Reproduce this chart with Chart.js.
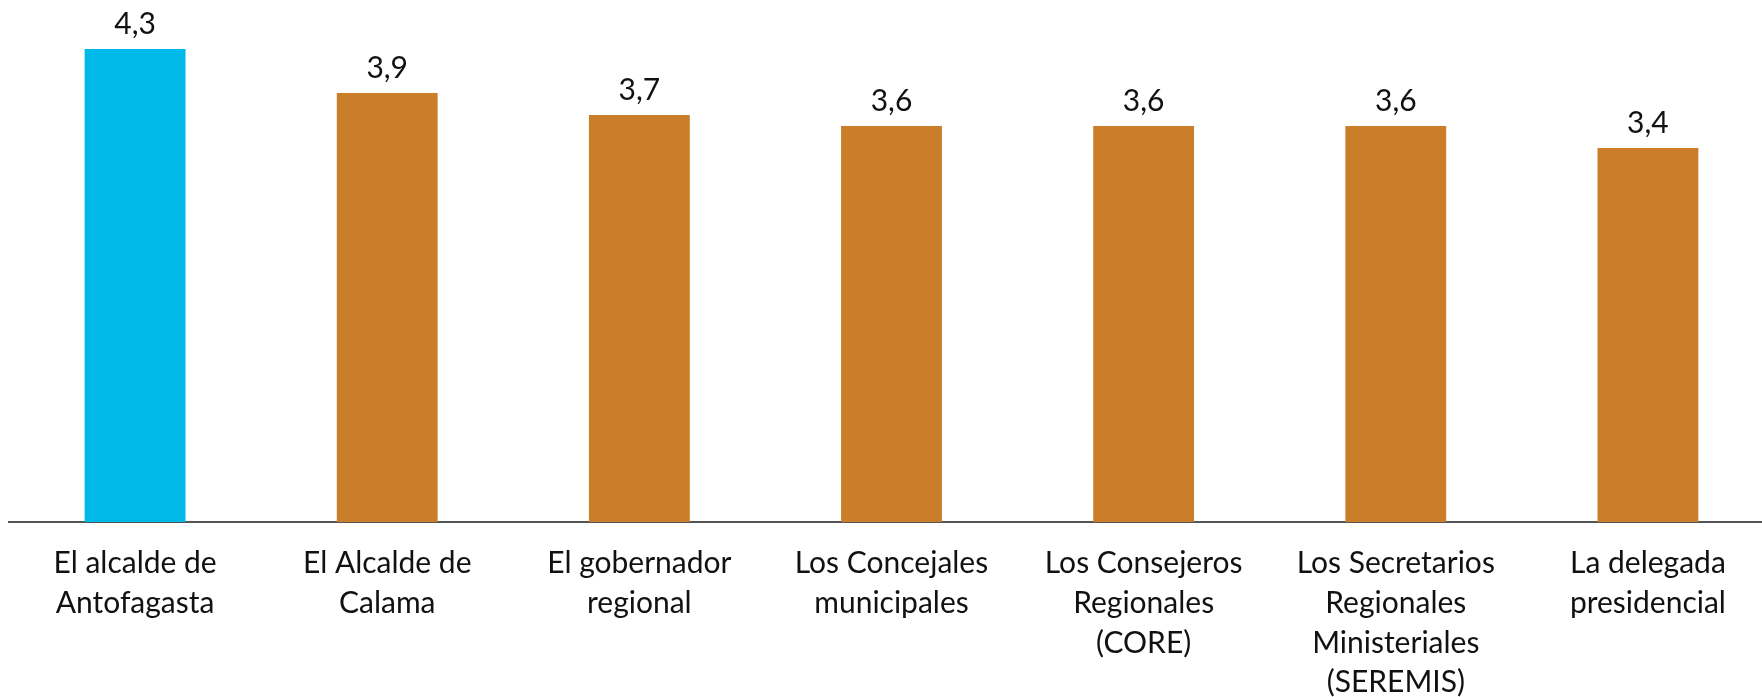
<!DOCTYPE html>
<html>
<head>
<meta charset="utf-8">
<script src="https://cdn.jsdelivr.net/npm/chart.js@4"></script>
<style>
  html, body { margin: 0; padding: 0; background: #fff; overflow: hidden; }
  #wrap { width: 1776px; height: 697px; }
</style>
</head>
<body>
<div id="wrap"><canvas id="notas"></canvas></div>
<script>
// ------------------- Datos -------------------
const categorias = [
  ["El alcalde de", "Antofagasta"],
  ["El Alcalde de", "Calama"],
  ["El gobernador", "regional"],
  ["Los Concejales", "municipales"],
  ["Los Consejeros", "Regionales", "(CORE)"],
  ["Los Secretarios", "Regionales", "Ministeriales", "(SEREMIS)"],
  ["La delegada", "presidencial"]
];
const notas = [4.3, 3.9, 3.7, 3.6, 3.6, 3.6, 3.4];
const colores = ["#00B9E8", "#CA7E2A", "#CA7E2A", "#CA7E2A", "#CA7E2A", "#CA7E2A", "#CA7E2A"];

const FUENTE = "Lato, 'Open Sans', sans-serif";

// etiquetas con el valor sobre cada barra
const etiquetasValor = {
  id: "etiquetasValor",
  afterDatasetsDraw(chart) {
    const c = chart.ctx;
    const meta = chart.getDatasetMeta(0);
    c.save();
    c.font = "30px " + FUENTE;
    c.fillStyle = "#111";
    c.textAlign = "center";
    c.textBaseline = "alphabetic";
    meta.data.forEach((bar, i) => {
      const txt = notas[i].toFixed(1).replace(".", ",");
      c.fillText(txt, bar.x, bar.y - 15);
    });
    c.restore();
  }
};

new Chart(document.getElementById("notas"), {
  type: "bar",
  data: {
    labels: categorias,
    datasets: [{
      data: notas,
      backgroundColor: colores,
      borderWidth: 0,
      barPercentage: 0.8,
      categoryPercentage: 0.5
    }]
  },
  options: {
    responsive: true,
    maintainAspectRatio: false,
    animation: false,
    layout: { padding: { left: 9, right: 2, top: 0, bottom: 0 } },
    plugins: {
      legend: { display: false },
      tooltip: { enabled: false }
    },
    scales: {
      x: {
        grid: { display: false, drawTicks: false },
        border: { display: true, color: "#555", width: 2 },
        ticks: {
          color: "#111",
          padding: 22,
          maxRotation: 0,
          autoSkip: false,
          font: { family: FUENTE, size: 30, lineHeight: 1.32 }
        },
        afterFit(scale) { scale.height = 175; }
      },
      y: {
        display: false,
        min: 0,
        max: 4.745
      }
    }
  },
  plugins: [etiquetasValor]
});
</script>
</body>
</html>
